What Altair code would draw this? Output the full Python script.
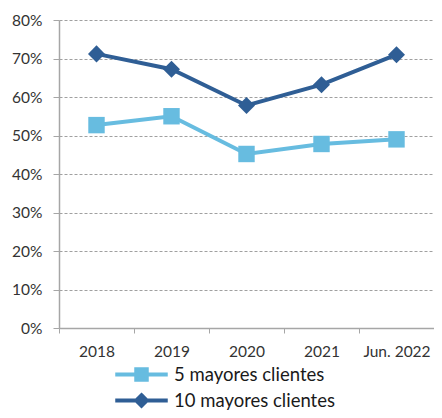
import altair as alt
import pandas as pd

years = ["2018", "2019", "2020", "2021", "Jun. 2022"]
series_names = ["5 mayores clientes", "10 mayores clientes"]
top5 = [0.527, 0.550, 0.452, 0.478, 0.490]
top10 = [0.712, 0.672, 0.578, 0.632, 0.710]
colors = ["#67BCE0", "#2F5E95"]
y_ticks = [0, 0.1, 0.2, 0.3, 0.4, 0.5, 0.6, 0.7, 0.8]

rows = []
for name, vals in zip(series_names, [top5, top10]):
    for yr, v in zip(years, vals):
        rows.append({"year": yr, "serie": name, "value": v})
df = pd.DataFrame(rows)

FONT = "Lato"
sq_path = "M-2.5,0H2.5M-0.5,-0.5H0.5V0.5H-0.5Z"
dm_path = "M-2.5,0H2.5M0,-0.5L0.5,0L0,0.5L-0.5,0Z"

x = alt.X("year:N", sort=years, title=None,
          scale=alt.Scale(paddingInner=0, paddingOuter=0),
          axis=alt.Axis(labelAngle=0, tickBand="extent", tickSize=5, labelPadding=11,
                        domainColor="#A6A6A6", tickColor="#A6A6A6", domainWidth=1.5,
                        labelFontSize=15.5, labelColor="#333333", labelFont=FONT, grid=False))
y = alt.Y("value:Q", title=None,
          scale=alt.Scale(domain=[0, 0.8], nice=False),
          axis=alt.Axis(format=".0%", values=y_ticks, tickSize=6, labelPadding=11,
                        domainColor="#A6A6A6", tickColor="#A6A6A6", domainWidth=1.5,
                        labelFontSize=15.5, labelColor="#333333", labelFont=FONT,
                        gridColor="#A0A0A0", gridDash=[3, 2], gridWidth=1))

legend = alt.Legend(title=None, orient="none", legendX=70, legendY=342,
                    direction="vertical", symbolSize=441,
                    symbolStrokeWidth=4, labelOffset=20, labelLimit=400,
                    labelFontSize=18.5, labelFont=FONT, labelColor="#1a1a1a",
                    rowPadding=-4, padding=0)
color = alt.Color("serie:N", sort=series_names,
                  scale=alt.Scale(domain=series_names, range=colors), legend=legend)
shape = alt.Shape("serie:N", sort=series_names,
                  scale=alt.Scale(domain=series_names, range=[sq_path, dm_path]),
                  legend=legend)

base = alt.Chart(df)
lines = base.mark_line(strokeWidth=4).encode(x=x, y=y, color=color, detail="serie:N")
pts5 = base.transform_filter(alt.datum.serie == series_names[0]).mark_point(
    shape="square", size=270, filled=True, opacity=1).encode(x=x, y=y, color=color)
pts10 = base.transform_filter(alt.datum.serie == series_names[1]).mark_point(
    shape="diamond", size=290, filled=True, opacity=1).encode(x=x, y=y, color=color)
legend_layer = base.mark_point(opacity=0, filled=True).encode(
    x=x, y=y, color=color, shape=shape)

chart = alt.layer(lines, pts5, pts10, legend_layer).properties(
    width=375, height=308,
    autosize=alt.AutoSizeParams(type="none"),
    padding={"left": 51, "top": 12, "right": 0, "bottom": 82},
).configure_view(stroke=None).configure_legend(symbolOpacity=1)

chart.save("out.html", embed_options={"renderer": "svg", "actions": False})
